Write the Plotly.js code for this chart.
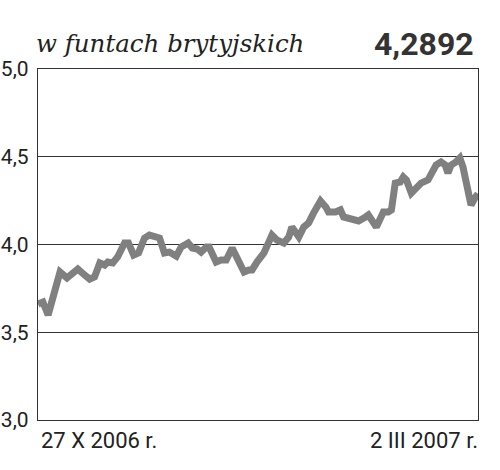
<!DOCTYPE html>
<html>
<head>
<meta charset="utf-8">
<script src="https://cdn.plot.ly/plotly-3.0.1.min.js"></script>
<style>html,body{margin:0;padding:0;background:#fff;}#chart{width:500px;height:470px;}</style>
</head>
<body>
<div id="chart"></div>
<script>
// days since 27 X 2006
const days = [0,1.4,2.9,4.3,6.3,8.3,9.7,11.4,13.4,14.8,16.2,17.7,19.1,20,21.4,22.8,24.8,25.9,27.4,28.8,30.5,31.9,34.8,36.2,37.6,39.6,41,43,44.2,45.6,46.7,48.2,49,51,52.4,53.9,55.6,57,59,60.4,61.3,62.7,64.7,67,68.4,70.4,71.8,72.7,74.7,76.1,77.5,78.9,80.9,82.4,83.2,85.2,86.6,87.5,89.5,91.8,93.8,94.6,96.9,98.9,100.3,101.2,102.3,103.7,104.6,105.5,106.9,108,109.7,111.7,112.6,114,115.4,116.6,117.4,118.3,119.7,120.8,121.7,122.6,124,125.1,126];
const rate = [3.661,3.672,3.598,3.701,3.843,3.809,3.838,3.860,3.826,3.803,3.815,3.895,3.883,3.900,3.895,3.929,4.009,4.009,3.940,3.952,4.037,4.054,4.037,3.952,3.957,3.934,3.986,4.009,3.980,3.974,3.957,3.986,3.986,3.900,3.912,3.912,3.980,3.929,3.843,3.855,3.855,3.900,3.952,4.054,4.026,4.009,4.043,4.100,4.043,4.100,4.123,4.179,4.248,4.214,4.185,4.185,4.197,4.157,4.145,4.134,4.157,4.168,4.100,4.185,4.185,4.197,4.350,4.356,4.385,4.368,4.293,4.311,4.350,4.368,4.407,4.453,4.470,4.453,4.407,4.453,4.470,4.493,4.442,4.350,4.225,4.265,4.2892];
const yTicks = [3.0,3.5,4.0,4.5,5.0];
const yTickText = ["3,0","3,5","4,0","4,5","5,0"];
const startLabel = "27 X 2006 r.";
const endLabel = "2 III 2007 r.";
const titleText = "w funtach brytyjskich";
const lastValue = "4,2892";

const sans = 'Roboto, sans-serif';

const trace = {
  x: days, y: rate, mode: 'lines', type: 'scatter',
  line: {color: '#808080', width: 7, shape: 'linear'},
  hoverinfo: 'none', cliponaxis: false
};

const layout = {
  width: 500, height: 470,
  margin: {l: 38, r: 22, t: 69, b: 50, pad: 0},
  paper_bgcolor: '#fff', plot_bgcolor: '#fff',
  showlegend: false,
  xaxis: {
    range: [days[0], days[days.length-1]],
    showgrid: false, zeroline: false, showticklabels: false, ticks: '',
    showline: true, linecolor: '#333', linewidth: 1.2, mirror: true
  },
  yaxis: {
    range: [3, 5], tickvals: yTicks, ticktext: yTickText,
    showgrid: true, gridcolor: '#333', gridwidth: 1.2, zeroline: false,
    showline: true, linecolor: '#333', linewidth: 1.2, mirror: true,
    ticks: '', ticklabelstandoff: 4,
    tickfont: {family: sans, size: 21, color: '#222'}
  },
  annotations: [
    {xref: 'paper', yref: 'paper', x: 0, y: 1, xanchor: 'left', yanchor: 'bottom', yshift: 9, xshift: -4,
     text: titleText, showarrow: false,
     font: {family: '"DejaVu Serif", serif', size: 24.5, color: '#222', style: 'italic'}},
    {xref: 'paper', yref: 'paper', x: 1, y: 1, xanchor: 'right', yanchor: 'bottom', yshift: 4, xshift: -2,
     text: '<b>' + lastValue + '</b>', showarrow: false,
     font: {family: sans, size: 32, color: '#333'}},
    {xref: 'paper', yref: 'paper', x: 0, y: 0, xanchor: 'left', yanchor: 'top', yshift: -6, xshift: 1,
     text: startLabel, showarrow: false,
     font: {family: sans, size: 22, color: '#222'}},
    {xref: 'paper', yref: 'paper', x: 1, y: 0, xanchor: 'right', yanchor: 'top', yshift: -6, xshift: 2,
     text: endLabel, showarrow: false,
     font: {family: sans, size: 22, color: '#222'}}
  ]
};

Plotly.newPlot('chart', [trace], layout, {displayModeBar: false, staticPlot: true});
</script>
</body>
</html>
